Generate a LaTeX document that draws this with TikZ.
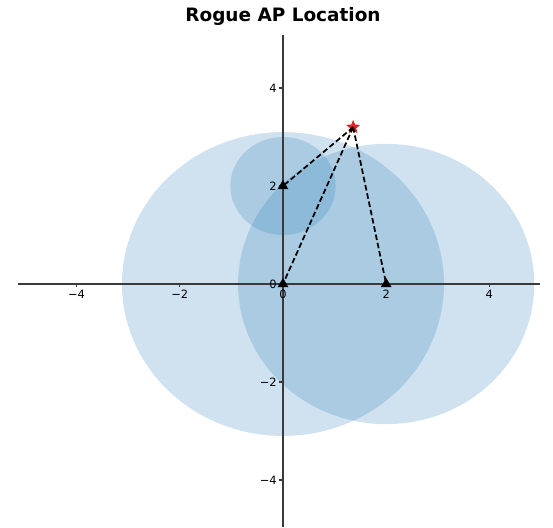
\documentclass[tikz,border=0pt]{standalone}
\usepackage{fontspec}
\setmainfont{DejaVu Sans}
\usetikzlibrary{shapes.geometric,calc}
\definecolor{MPBlue}{HTML}{1f77b4}
\definecolor{MPRed}{HTML}{d62728}
\definecolor{MPSpine}{HTML}{3a3a3a}

\begin{document}
\begin{tikzpicture}[x=1.032cm,y=0.98cm,
    disc/.style={fill=MPBlue,fill opacity=0.21,draw=none},
    spine/.style={draw=MPSpine,line width=0.7pt},
    tickmark/.style={draw=MPSpine,line width=0.6pt},
    ticklabel/.style={font=\fontsize{6.5}{7.5}\selectfont,inner sep=1pt},
    anchorpt/.style={regular polygon,regular polygon sides=3,fill=black,inner sep=0pt,minimum size=7pt},
    roguept/.style={star,star points=5,star point ratio=2.3,fill=MPRed,inner sep=0pt,minimum size=8.5pt},
    rangeline/.style={draw=black,line width=1pt,dash pattern=on 3.2pt off 1.6pt}]
    \useasboundingbox (-5.484,-4.959) rectangle (5.233,5.796);
    % range circles
        \path[disc] (0,0) ellipse [x radius=3.12, y radius=3.1];
        \path[disc] (2,0) ellipse [x radius=2.87, y radius=2.86];
        \path[disc] (0,2) ellipse [x radius=1.02, y radius=1.0];
    % axes through the origin
        \draw[spine] (-5.13,0) -- (4.98,0);
        \draw[spine] (0,-4.96) -- (0,5.08);
        \foreach \t/\lab in {-4/−4,-2/−2,0/0,2/2,4/4}
            {
                \draw[tickmark] (\t,0) -- (\t,-0.07);
                \node[ticklabel,anchor=north] at (\t,-0.08) {\lab};
                \draw[tickmark] (0,\t) -- (-0.07,\t);
                \node[ticklabel,anchor=east] at (-0.08,\t) {\lab};
            }
    % access points and rogue estimate
        \node[anchorpt] (ap0) at (0,0) {};
        \node[anchorpt] (ap1) at (0,2) {};
        \node[anchorpt] (ap2) at (2,0) {};
        \node[roguept] (rogue) at (1.36,3.2) {};
        \foreach \a in {ap0,ap1,ap2}
            {
                \draw[rangeline] (rogue.center) -- (\a.center);
            }
        \node[font=\fontsize{10.5}{12}\selectfont\bfseries] (title) at (0,5.45) {Rogue AP Location};
\end{tikzpicture}
\end{document}
